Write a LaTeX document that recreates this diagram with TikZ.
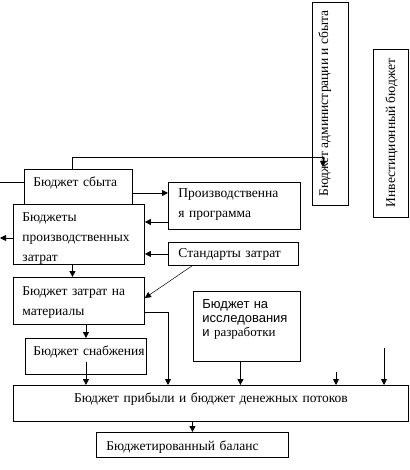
\documentclass[tikz,border=0pt]{standalone}
\usepackage{fontspec}
\setmainfont{Liberation Serif}
\newfontfamily\arialfont{Liberation Sans}
\usetikzlibrary{arrows.meta}
\tikzset{
  blk/.style  = {draw,line width=0.9pt,anchor=north west,align=left,inner xsep=9pt,inner ysep=0pt,
                 font=\fontsize{13.5}{20}\selectfont},
  vblk/.style = {draw,line width=0.9pt,rotate=90,inner sep=0pt,font=\fontsize{13.5}{20}\selectfont},
  arr/.style  = {-{Triangle[length=6pt,width=6pt]},line width=0.9pt},
  link/.style = {line width=0.9pt},
  diag/.style = {-{Triangle[length=6pt,width=6pt]},line width=0.5pt}
}

\begin{document}
\begin{tikzpicture}[x=1pt,y=-1pt]
  \useasboundingbox (0,0) rectangle (409,470);
  % blocks
  \node[blk,text width=90pt,text height=17pt,text depth=18pt] (sbyt) at (24,169) {Бюджет сбыта};
  \node[blk,text width=113pt,text height=17pt,text depth=43pt] (prodz) at (13,204) {Бюджеты\\производственных\\затрат};
  \node[blk,inner xsep=10pt,text width=112pt,text height=15pt,text depth=32pt] (prog) at (168,182) {Производственна\\я программа};
  \node[blk,inner xsep=10pt,text width=110pt,text height=15pt,text depth=8pt] (stand) at (168,242) {Стандарты затрат};
  \node[blk,text width=113pt,text height=18pt,text depth=29pt] (mat) at (13,277) {Бюджет затрат на\\материалы};
  \node[blk,inner xsep=8pt,text width=105pt,text height=17pt,text depth=19pt] (snab) at (25,338) {\mbox{Бюджет снабжения}};
  \node[blk,text width=89pt,text height=17pt,text depth=53pt,font=\arialfont\fontsize{13}{14}\selectfont] (issl) at (193,291)
    {Бюджет на\\исследования\\и {\rmfamily разработки}};
  \node[blk,align=center,text width=377pt,text height=17pt,text depth=19pt] (prib) at (13,385) {Бюджет прибыли и бюджет денежных потоков};
  \node[blk,inner xsep=10pt,text width=172pt,text height=18pt,text depth=7pt] (bal) at (96,432) {Бюджетированный баланс};
  \node[vblk,minimum width=203pt,text height=16pt,text depth=20pt] (adm) at (330,103.5) {Бюджет администрации и сбыта};
  \node[vblk,minimum width=168pt,text height=22pt,text depth=13pt] (inv) at (390.5,133) {Инвестиционный бюджет};

  \coordinate (inL) at (0,182);
  \coordinate (outL) at (0,238);
  \coordinate (top) at (323,157);
  \coordinate (stub1) at (336,372);
  \coordinate (stub2) at (384,348);

  % connectors
  \draw[link] (inL) -- (inL -| sbyt.west);
  \draw[arr] ([xshift=-6pt]sbyt.north) |- (top) -- ++(0,10);
  \draw[arr] (sbyt.east |- 0,193) -- (prog.west |- 0,193);
  \draw[arr] (prog.west |- 0,222) -- (prodz.east |- 0,222);
  \draw[arr] (stand.west) -- (stand.west -| prodz.east);
  \draw[arr] (prodz.west |- outL) -- (outL);
  \draw[arr] ([xshift=-6.5pt]prodz.south) -- ([xshift=-6.5pt]prodz.south |- mat.north);
  \draw[diag] ([xshift=24pt]stand.south west) -- ([yshift=3pt]mat.east);
  \draw[arr] (mat.east |- 0,312) -| (prib.north -| 168,0);
  \draw[arr] (snab.north |- mat.south) -- (snab.north);
  \draw[arr] ([yshift=-6pt]snab.center) -- (snab.center |- prib.north);
  \draw[arr] ([xshift=-6.5pt]issl.south) -- ([xshift=-6.5pt]issl.south |- prib.north);
  \draw[arr] (stub1) -- (stub1 |- prib.north);
  \draw[arr] (stub2) -- (stub2 |- prib.north);
  \draw[arr] (bal.north |- prib.south) -- (bal.north);
\end{tikzpicture}
\end{document}
